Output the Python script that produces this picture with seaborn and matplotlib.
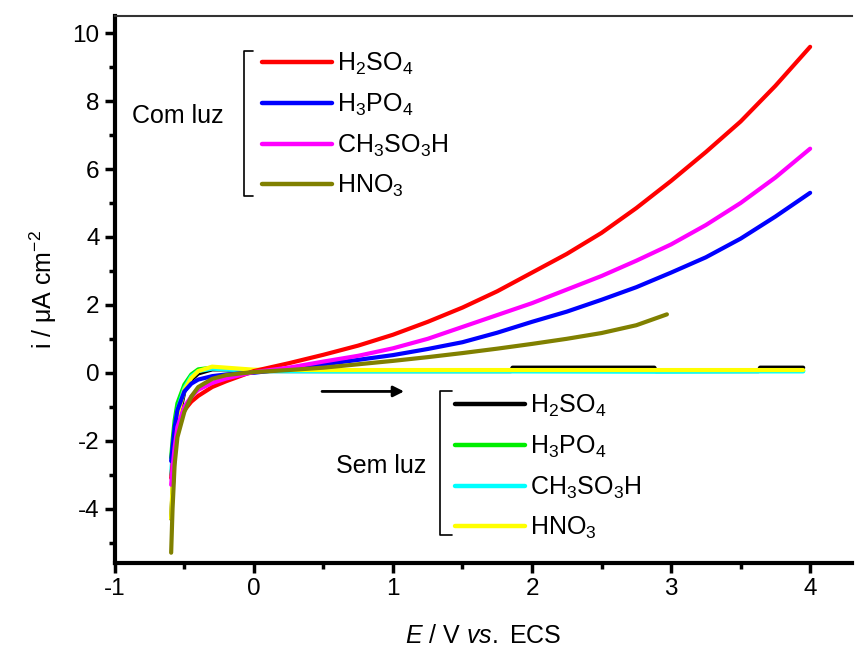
import matplotlib
matplotlib.use("Agg")
import matplotlib.pyplot as plt
from matplotlib.lines import Line2D
from matplotlib.ticker import MultipleLocator
import seaborn as sns

sns.set_theme(style="white")
plt.rcParams["font.family"] = ["Liberation Sans", "DejaVu Sans"]
plt.rcParams["mathtext.fontset"] = "custom"
plt.rcParams["mathtext.rm"] = "Liberation Sans"
plt.rcParams["mathtext.it"] = "Liberation Sans:italic"
plt.rcParams["mathtext.default"] = "regular"
plt.rcParams["axes.unicode_minus"] = False
plt.rcParams["text.color"] = "black"
plt.rcParams["axes.labelcolor"] = "black"
plt.rcParams["xtick.color"] = "black"
plt.rcParams["ytick.color"] = "black"

# Potential grid (V vs. ECS) for the illuminated sweeps
E_lit = [-0.595, -0.585, -0.57, -0.55, -0.50, -0.45, -0.40, -0.30, -0.20, -0.10, 0.00,
         0.25, 0.50, 0.75, 1.00, 1.25, 1.50, 1.75, 2.00, 2.25, 2.50, 2.75, 3.00,
         3.25, 3.50, 3.75, 4.00]
E_lit_hno3 = [-0.595, -0.585, -0.57, -0.55, -0.50, -0.45, -0.40, -0.30, -0.20, -0.10, 0.00,
              0.25, 0.50, 0.75, 1.00, 1.25, 1.50, 1.75, 2.00, 2.25, 2.50, 2.75, 2.97]

# Current density (uA cm-2) under illumination
i_lit_h2so4 = [-3.1, -2.7, -2.1, -1.6, -1.1, -0.85, -0.68, -0.42, -0.25, -0.10, 0.05,
               0.28, 0.53, 0.80, 1.12, 1.50, 1.92, 2.40, 2.95, 3.50, 4.12, 4.85, 5.65,
               6.50, 7.40, 8.45, 9.60]
i_lit_h3po4 = [-2.6, -2.2, -1.6, -1.1, -0.55, -0.32, -0.20, -0.10, -0.05, -0.02, 0.00,
               0.12, 0.25, 0.38, 0.52, 0.70, 0.90, 1.18, 1.50, 1.80, 2.15, 2.52, 2.95,
               3.40, 3.95, 4.60, 5.30]
i_lit_ch3so3h = [-3.3, -2.8, -2.2, -1.6, -1.0, -0.70, -0.50, -0.30, -0.17, -0.07, 0.02,
                 0.15, 0.33, 0.50, 0.72, 1.00, 1.35, 1.70, 2.05, 2.45, 2.85, 3.30, 3.78,
                 4.35, 5.00, 5.75, 6.60]
i_lit_hno3 = [-5.3, -4.0, -2.7, -1.9, -1.15, -0.70, -0.42, -0.18, -0.07, -0.02, 0.02,
              0.08, 0.15, 0.25, 0.35, 0.46, 0.58, 0.71, 0.85, 1.00, 1.17, 1.40, 1.72]

# Potential grid for the dark sweeps
E_dark = [-0.595, -0.585, -0.57, -0.55, -0.50, -0.45, -0.40, -0.30, -0.20, -0.10, 0.00,
          0.50, 1.00, 1.50, 1.85, 1.86, 2.88, 2.89, 3.63, 3.64, 3.95]

# Current density (uA cm-2) in the dark
i_dark_h2so4 = [-4.3, -3.5, -2.4, -1.5, -0.55, -0.20, -0.02, 0.10, 0.10, 0.07, 0.05,
                0.05, 0.05, 0.05, 0.05, 0.15, 0.15, 0.05, 0.05, 0.15, 0.15]
i_dark_h3po4 = [-2.5, -2.0, -1.4, -0.9, -0.35, -0.05, 0.10, 0.15, 0.12, 0.09, 0.07,
                0.06, 0.06, 0.06, 0.06, 0.06, 0.06, 0.06, 0.06, 0.06, 0.06]
i_dark_ch3so3h = [-3.0, -2.4, -1.7, -1.1, -0.45, -0.10, 0.05, 0.12, 0.10, 0.07, 0.05,
                  0.04, 0.04, 0.04, 0.04, 0.04, 0.03, 0.03, 0.04, 0.04, 0.04]
i_dark_hno3 = [-4.3, -3.3, -2.2, -1.3, -0.50, -0.15, 0.05, 0.18, 0.15, 0.12, 0.09,
               0.08, 0.08, 0.08, 0.08, 0.08, 0.08, 0.08, 0.08, 0.08, 0.08]

labels = [r"H$_2$SO$_4$", r"H$_3$PO$_4$", r"CH$_3$SO$_3$H", r"HNO$_3$"]
lit_colors = ["#ff0000", "#0000ff", "#ff00ff", "#808000"]
dark_colors = ["#000000", "#00ee00", "#00ffff", "#ffff00"]

fig = plt.figure(figsize=(8.57, 6.5), dpi=100)
ax = fig.add_axes([0.134, 0.134, 0.860, 0.841])

lw = 3.0
dark_series = [i_dark_h2so4, i_dark_h3po4, i_dark_ch3so3h, i_dark_hno3]
for vals, col in zip(dark_series, dark_colors):
    sns.lineplot(x=E_dark, y=vals, color=col, lw=lw, sort=False, ax=ax)

lit_series = [(E_lit, i_lit_h2so4), (E_lit, i_lit_h3po4),
              (E_lit, i_lit_ch3so3h), (E_lit_hno3, i_lit_hno3)]
for (ex, vals), col in zip(lit_series, lit_colors):
    sns.lineplot(x=ex, y=vals, color=col, lw=lw, sort=False, ax=ax)

ax.set_xlim(-1, 4.30)
ax.set_ylim(-5.6, 10.5)
ax.xaxis.set_major_locator(MultipleLocator(1))
ax.xaxis.set_minor_locator(MultipleLocator(0.5))
ax.yaxis.set_major_locator(MultipleLocator(2))
ax.yaxis.set_minor_locator(MultipleLocator(1))
ax.tick_params(which="major", direction="out", length=7, width=2.5,
               labelsize=17.5, left=True, bottom=True, pad=4, color="black",
               labelcolor="black")
ax.tick_params(which="minor", direction="out", length=4, width=2.5,
               left=True, bottom=True, color="black")
for side in ["left", "bottom"]:
    ax.spines[side].set_linewidth(3)
    ax.spines[side].set_color("black")
ax.spines["top"].set_linewidth(1.5)
ax.spines["top"].set_color("#333333")
ax.spines["right"].set_visible(False)

ax.set_xlabel(r"$\mathit{E}$ / V $\mathit{vs.}$ ECS", fontsize=18, labelpad=17)
ax.set_ylabel(r"i / $\mu$A cm$^{-2}$", fontsize=18, labelpad=10)

# Sweep direction arrow
ax.annotate("", xy=(1.10, -0.55), xytext=(0.47, -0.55),
            arrowprops=dict(arrowstyle="-|>", color="black", lw=2, mutation_scale=16))

# Legends: illuminated (top) and dark (bottom)
W, H = 857.0, 650.0
lit_handles = [Line2D([], [], color=c, lw=3.2) for c in lit_colors]
dark_handles = [Line2D([], [], color=c, lw=3.2) for c in dark_colors]
leg_kw = dict(frameon=False, fontsize=18, handlelength=2.8, handletextpad=0.2,
              labelspacing=0.58, borderpad=0, borderaxespad=0, loc="upper left")
leg1 = fig.legend(lit_handles, labels, bbox_to_anchor=(262 / W, 1 - 51 / H), **leg_kw)
leg2 = fig.legend(dark_handles, labels, bbox_to_anchor=(455 / W, 1 - 393 / H), **leg_kw)


def bracket(x, y0, y1, arm):
    fig.add_artist(Line2D([(x + arm) / W, x / W, x / W, (x + arm) / W],
                          [1 - y0 / H, 1 - y0 / H, 1 - y1 / H, 1 - y1 / H],
                          color="black", lw=1.2, transform=fig.transFigure))


bracket(244, 51, 196, 9)
bracket(440, 391, 535, 12)
fig.text(178 / W, 1 - 116 / H, "Com luz", fontsize=18, ha="center", va="center")
fig.text(381 / W, 1 - 466 / H, "Sem luz", fontsize=18, ha="center", va="center")

fig.savefig("out.png", dpi=100)
